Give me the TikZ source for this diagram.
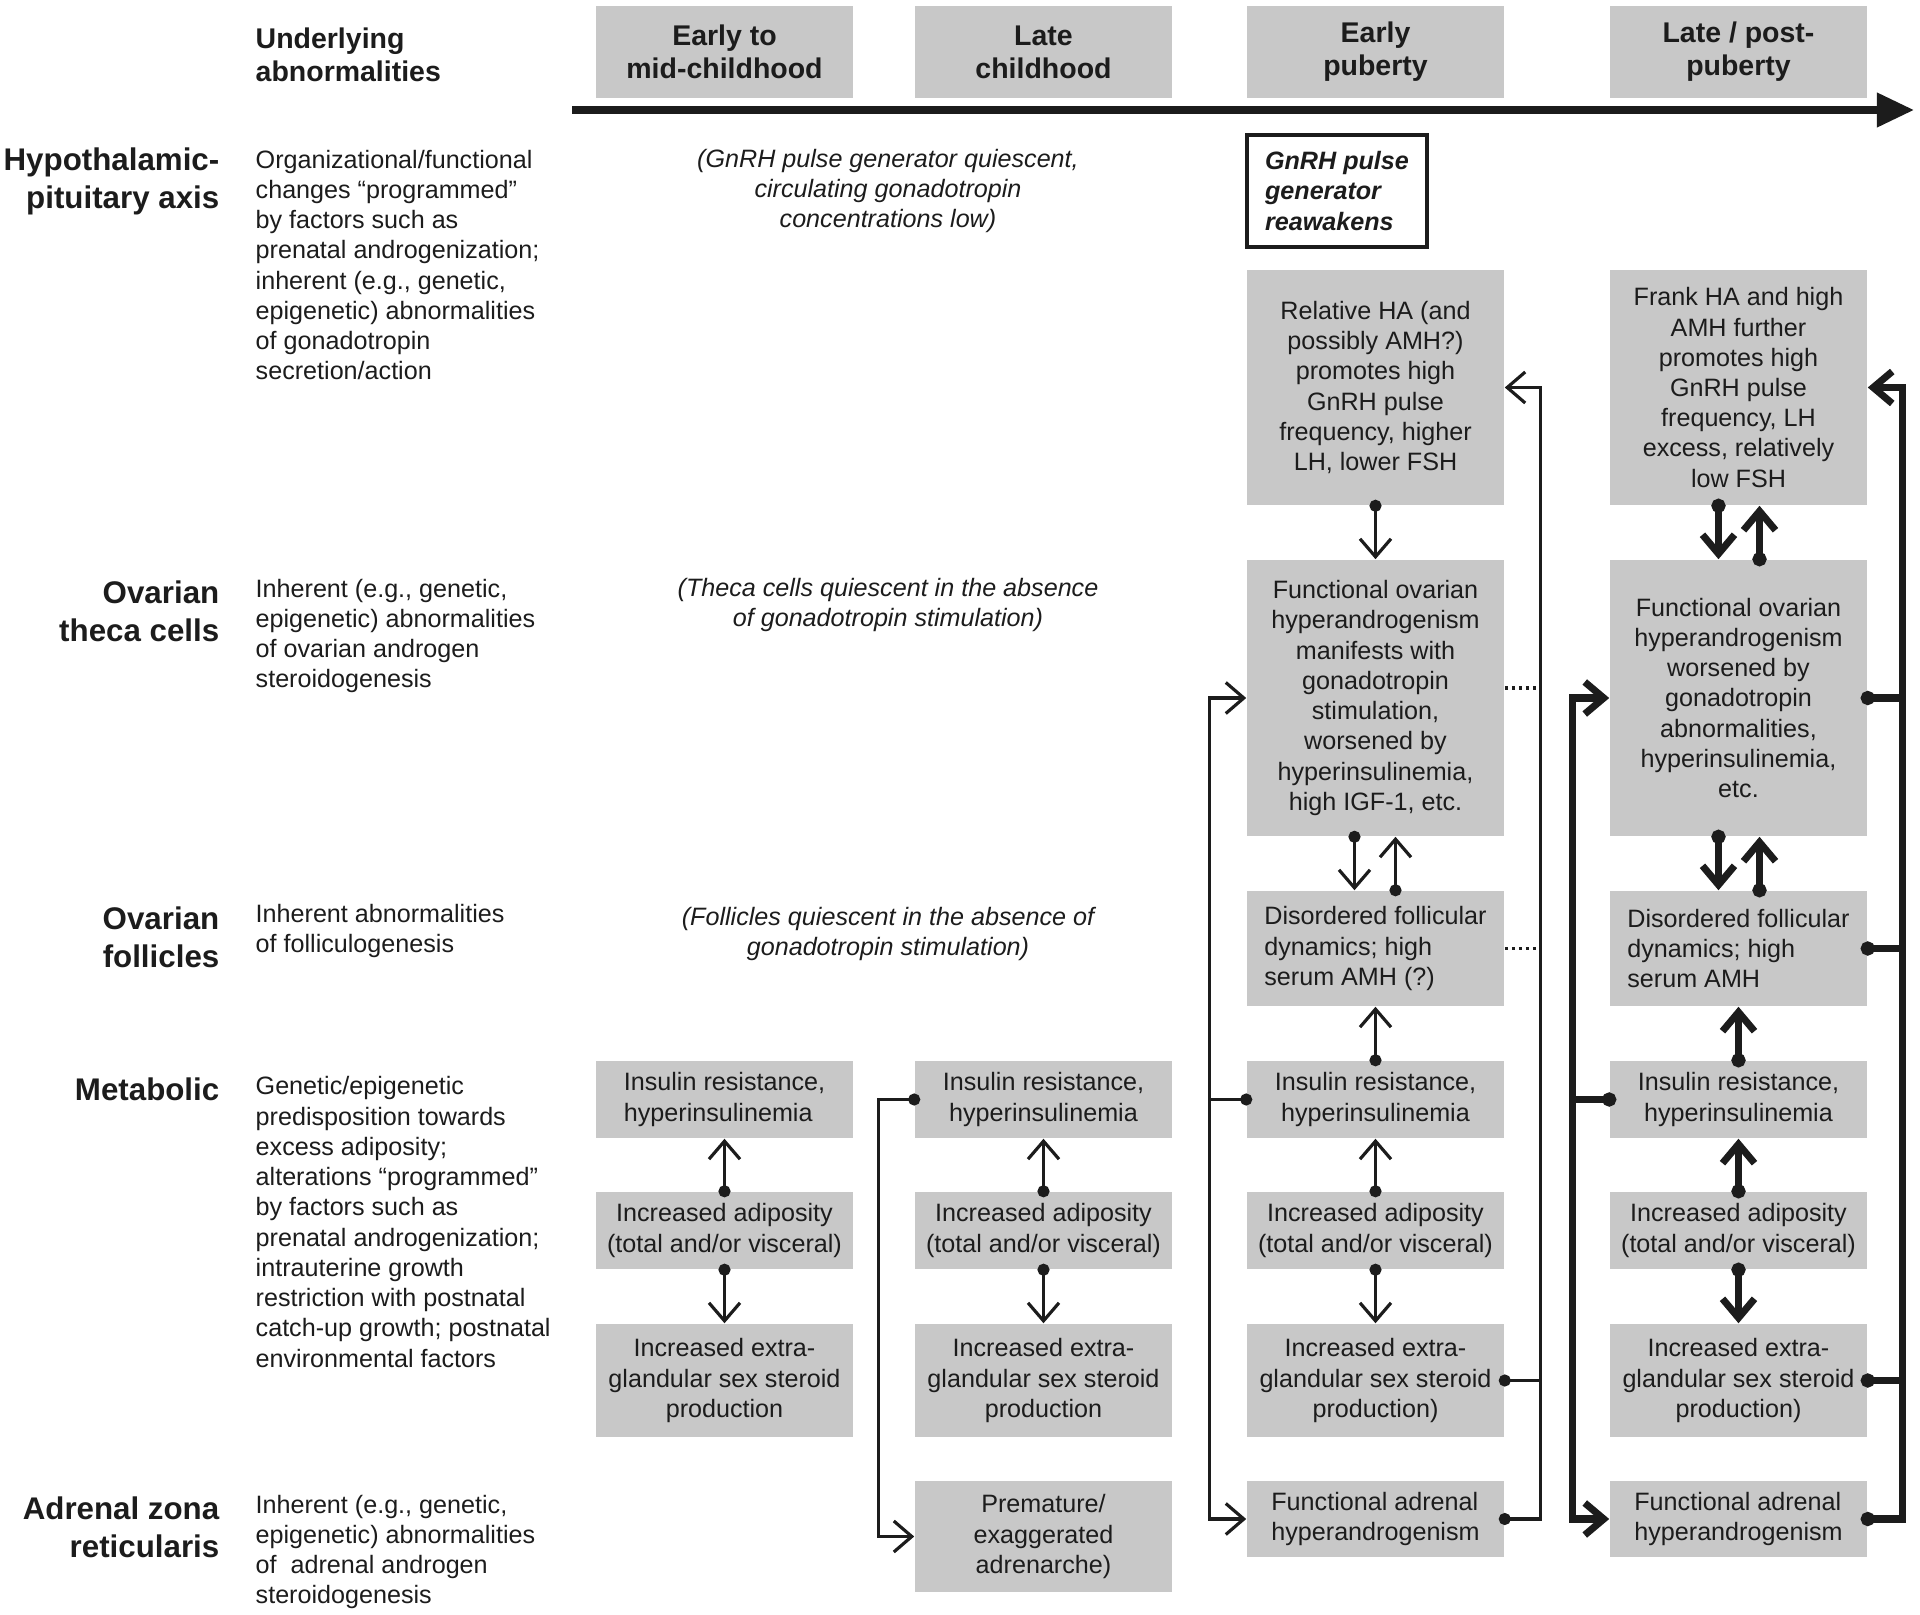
\documentclass[tikz,border=0pt]{standalone}
\usepackage{fontspec}
\setmainfont{Liberation Sans}
\usetikzlibrary{arrows.meta, positioning, calc}
\definecolor{ink}{RGB}{28,28,28}
\definecolor{boxgray}{RGB}{200,200,200}

\begin{document}
\begin{tikzpicture}[x=0.01cm, y=-0.01cm,
  every node/.style={inner sep=0pt, text=ink, font=\fontsize{7.15}{8.6}\selectfont},
  stage/.style={fill=boxgray, minimum width=2.57cm, minimum height=0.92cm, align=center, font=\fontsize{8.1}{9.4}\selectfont\bfseries},
  box/.style={fill=boxgray, minimum width=2.57cm, align=center},
  rowlabel/.style={anchor=east, align=right, font=\fontsize{8.9}{10.8}\selectfont\bfseries},
  cause/.style={anchor=west, align=left},
  quiet/.style={align=center, font=\fontsize{7.15}{8.6}\selectfont\itshape},
  link/.style={draw=ink, line width=0.9pt, shorten <=-0.06cm, {Circle[length=0.12cm]}-{Straight Barb[length=0.18cm, width=0.31cm]}},
  boldlink/.style={draw=ink, line width=2pt, shorten <=-0.07cm, {Circle[length=0.14cm]}-{Straight Barb[length=0.19cm, width=0.32cm]}},
  rail/.style={draw=ink, line width=0.9pt, {Straight Barb[length=0.18cm, width=0.31cm]}-{Straight Barb[length=0.18cm, width=0.31cm]}},
  boldrail/.style={draw=ink, line width=2pt, {Straight Barb[length=0.19cm, width=0.32cm]}-{Straight Barb[length=0.19cm, width=0.32cm]}},
  stub/.style={draw=ink, line width=0.9pt, shorten <=-0.06cm, {Circle[length=0.12cm]}-},
  boldstub/.style={draw=ink, line width=2pt, shorten <=-0.07cm, {Circle[length=0.14cm]}-},
  dotline/.style={draw=ink, line width=1.1pt, dash pattern=on 1pt off 1pt}
]
\useasboundingbox (0,0) rectangle (1920,1615);

\node[stage] at (724.5, 52) (s1) {Early to\\mid-childhood};
\node[stage] at (1043.5, 52) (s2) {Late\\childhood};
\node[stage] at (1375.5, 52) (s3) {Early\\puberty};
\node[stage] at (1738.5, 52) (s4) {Late / post-\\puberty};
\coordinate (t0) at (572, 110);
\coordinate (t1) at (1914, 110);
\draw[ink, line width=2pt, -{Triangle[length=0.37cm, width=0.33cm]}] (t0) -- (t1);

\node[cause, font=\fontsize{8.1}{9.4}\selectfont\bfseries] at (255, 55) (under) {Underlying\\abnormalities};

\node[rowlabel] at (220, 181) (rhp) {Hypothalamic-\\pituitary axis};
\node[rowlabel] at (220, 611) (rtheca) {Ovarian\\theca cells};
\node[rowlabel] at (220, 937) (rfoll) {Ovarian\\follicles};
\node[rowlabel] at (220, 1089) (rmet) {Metabolic};
\node[rowlabel] at (220, 1527) (radr) {Adrenal zona\\reticularis};

\node[cause] at (255, 265) (uhp) {Organizational/functional\\changes “programmed”\\by factors such as\\prenatal androgenization;\\inherent (e.g., genetic,\\epigenetic) abnormalities\\of gonadotropin\\secretion/action};
\node[cause] at (255, 636) (utheca) {Inherent (e.g., genetic,\\epigenetic) abnormalities\\of ovarian androgen\\steroidogenesis};
\node[cause] at (255, 931) (ufoll) {Inherent abnormalities\\of folliculogenesis};
\node[cause] at (255, 1222) (umet) {Genetic/epigenetic\\predisposition towards\\excess adiposity;\\alterations “programmed”\\by factors such as\\prenatal androgenization;\\intrauterine growth\\restriction with postnatal\\catch-up growth; postnatal\\environmental factors};
\node[cause] at (255, 1552) (uadr) {Inherent (e.g., genetic,\\epigenetic) abnormalities\\of~ adrenal androgen\\steroidogenesis};

\node[quiet] at (888, 191) (qhp) {(GnRH pulse generator quiescent,\\circulating gonadotropin\\concentrations low)};
\node[quiet] at (888, 605) (qtheca) {(Theca cells quiescent in the absence\\of gonadotropin stimulation)};
\node[quiet] at (888, 934) (qfoll) {(Follicles quiescent in the absence of\\gonadotropin stimulation)};

\node[draw=ink, line width=1.1pt, minimum width=1.80cm, minimum height=1.12cm, align=left, font=\fontsize{7.15}{8.6}\selectfont\bfseries\itshape] at (1337, 191) (wake) {GnRH pulse\\generator\\reawakens};

\node[box, minimum height=0.77cm, align=left] at (724.5, 1099.5) (ins1) {Insulin resistance,\\hyperinsulinemia};
\node[box, minimum height=0.77cm] at (724.5, 1230.5) (adip1) {Increased adiposity\\(total and/or visceral)};
\node[box, minimum height=1.13cm] at (724.5, 1380.5) (extra1) {Increased extra-\\glandular sex steroid\\production};

\node[box, minimum height=0.77cm] at (1043.5, 1099.5) (ins2) {Insulin resistance,\\hyperinsulinemia};
\node[box, minimum height=0.77cm] at (1043.5, 1230.5) (adip2) {Increased adiposity\\(total and/or visceral)};
\node[box, minimum height=1.13cm] at (1043.5, 1380.5) (extra2) {Increased extra-\\glandular sex steroid\\production};
\node[box, minimum height=1.11cm] at (1043.5, 1536.5) (prem2) {Premature/\\exaggerated\\adrenarche)};

\node[box, minimum height=2.35cm] at (1375.5, 387.5) (hp3) {Relative HA (and\\possibly AMH?)\\promotes high\\GnRH pulse\\frequency, higher\\LH, lower FSH};
\node[box, minimum height=2.76cm] at (1375.5, 698) (theca3) {Functional ovarian\\hyperandrogenism\\manifests with\\gonadotropin\\stimulation,\\worsened by\\hyperinsulinemia,\\high IGF-1, etc.};
\node[box, minimum height=1.15cm, align=left] at (1375.5, 948.5) (foll3) {Disordered follicular\\dynamics; high\\serum AMH (?)};
\node[box, minimum height=0.77cm] at (1375.5, 1099.5) (ins3) {Insulin resistance,\\hyperinsulinemia};
\node[box, minimum height=0.77cm] at (1375.5, 1230.5) (adip3) {Increased adiposity\\(total and/or visceral)};
\node[box, minimum height=1.13cm] at (1375.5, 1380.5) (extra3) {Increased extra-\\glandular sex steroid\\production)};
\node[box, minimum height=0.76cm, align=left] at (1375.5, 1519) (adr3) {Functional adrenal\\hyperandrogenism};

\node[box, minimum height=2.35cm] at (1738.5, 387.5) (hp4) {Frank HA and high\\AMH further\\promotes high\\GnRH pulse\\frequency, LH\\excess, relatively\\low FSH};
\node[box, minimum height=2.76cm] at (1738.5, 698) (theca4) {Functional ovarian\\hyperandrogenism\\worsened by\\gonadotropin\\abnormalities,\\hyperinsulinemia,\\etc.};
\node[box, minimum height=1.15cm, align=left] at (1738.5, 948.5) (foll4) {Disordered follicular\\dynamics; high\\serum AMH};
\node[box, minimum height=0.77cm] at (1738.5, 1099.5) (ins4) {Insulin resistance,\\hyperinsulinemia};
\node[box, minimum height=0.77cm] at (1738.5, 1230.5) (adip4) {Increased adiposity\\(total and/or visceral)};
\node[box, minimum height=1.13cm] at (1738.5, 1380.5) (extra4) {Increased extra-\\glandular sex steroid\\production)};
\node[box, minimum height=0.76cm, align=left] at (1738.5, 1519) (adr4) {Functional adrenal\\hyperandrogenism};

\coordinate[left=0.37cm of ins3.west] (l3);
\coordinate[right=0.36cm of hp3.east] (r3);
\coordinate[left=0.37cm of ins4.west] (l4);
\coordinate[right=0.35cm of hp4.east] (r4);

\draw[link] (adip1.north) -- (ins1.south);
\draw[link] (adip1.south) -- (extra1.north);

\draw[link] (adip2.north) -- (ins2.south);
\draw[link] (adip2.south) -- (extra2.north);
\draw[link] (ins2.west) -- ++(-36, 0) |- (prem2.west);

\draw[link] (hp3.south) -- (theca3.north);
\draw[link] ([xshift=-0.21cm]theca3.south) -- ([xshift=-0.21cm]foll3.north);
\draw[link] ([xshift=0.2cm]foll3.north) -- ([xshift=0.2cm]theca3.south);
\draw[link] (ins3.north) -- (foll3.south);
\draw[link] (adip3.north) -- (ins3.south);
\draw[link] (adip3.south) -- (extra3.north);
\draw[rail] (theca3.west) -| (l3) |- (adr3.west);
\draw[stub] (ins3.west) -- (l3);
\draw[link] (adr3.east) -| (r3) -- (hp3.east);
\draw[stub] (extra3.east) -- (extra3.east -| r3);
\draw[dotline] ([yshift=0.1cm]theca3.east) -- ++(31, 0);
\draw[dotline] (foll3.east) -- ++(31, 0);

\draw[boldlink] ([xshift=-0.2cm]hp4.south) -- ([xshift=-0.2cm]theca4.north);
\draw[boldlink] ([xshift=0.21cm]theca4.north) -- ([xshift=0.21cm]hp4.south);
\draw[boldlink] ([xshift=-0.2cm]theca4.south) -- ([xshift=-0.2cm]foll4.north);
\draw[boldlink] ([xshift=0.21cm]foll4.north) -- ([xshift=0.21cm]theca4.south);
\draw[boldlink] (ins4.north) -- (foll4.south);
\draw[boldlink] (adip4.north) -- (ins4.south);
\draw[boldlink] (adip4.south) -- (extra4.north);
\draw[boldrail] (theca4.west) -| (l4) |- (adr4.west);
\draw[boldstub] (ins4.west) -- (l4);
\draw[boldlink] (adr4.east) -| (r4) -- (hp4.east);
\draw[boldstub] (theca4.east) -- (theca4.east -| r4);
\draw[boldstub] (foll4.east) -- (foll4.east -| r4);
\draw[boldstub] (extra4.east) -- (extra4.east -| r4);
\end{tikzpicture}
\end{document}
